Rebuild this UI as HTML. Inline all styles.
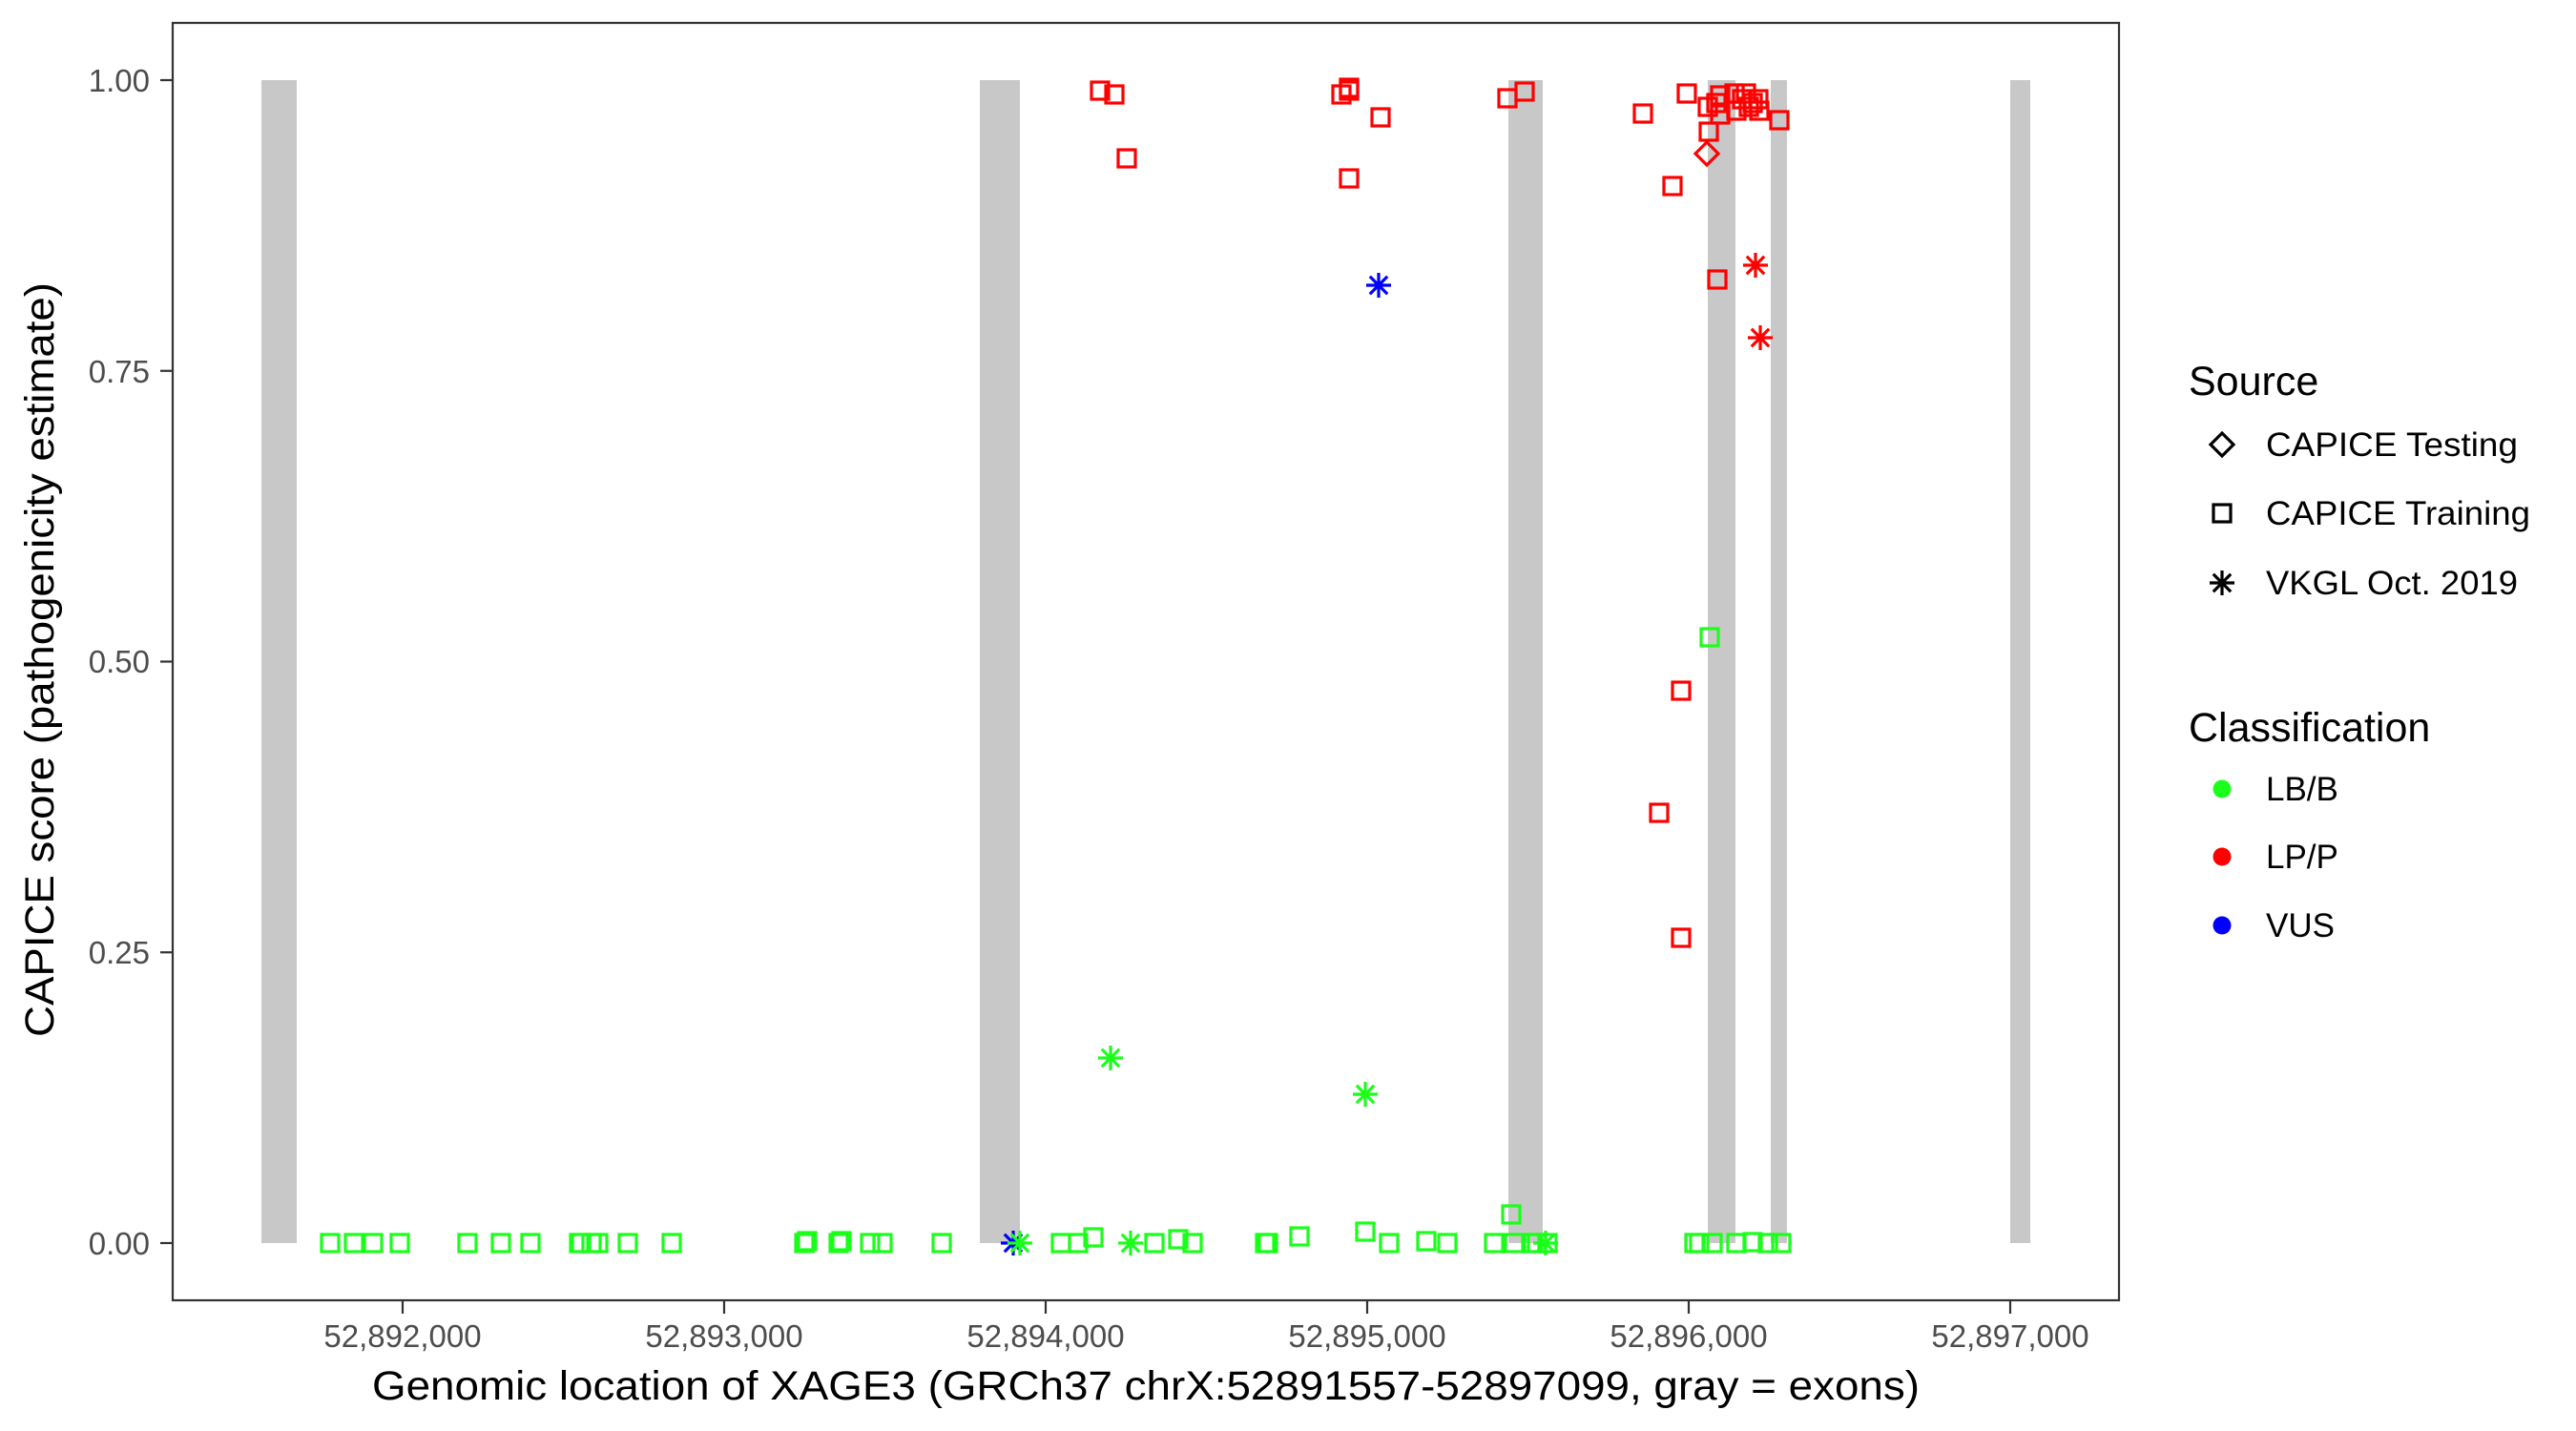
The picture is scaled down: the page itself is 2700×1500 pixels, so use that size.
<!DOCTYPE html>
<html><head><meta charset="utf-8"><style>
html,body{margin:0;padding:0;background:#fff;}
svg{display:block;font-family:"Liberation Sans",Arial,sans-serif;}
</style></head><body>
<svg width="2700" height="1500" viewBox="0 0 2700 1500" xmlns="http://www.w3.org/2000/svg">
<defs>
<rect id="sq" x="-9" y="-9" width="18" height="18" fill="none" stroke-width="3.2"/>
<path id="st" d="M-13,0H13M0,-13V13M-9.2,-9.2L9.2,9.2M-9.2,9.2L9.2,-9.2" fill="none" stroke-width="3.2"/>
<path id="dm" d="M0,-12L12,0L0,12L-12,0Z" fill="none" stroke-width="3.2"/>
</defs>
<rect width="2700" height="1500" fill="#fff"/>
<g fill="#c8c8c8">
<rect x="274" y="84" width="37" height="1219"/>
<rect x="1027" y="84" width="42" height="1219"/>
<rect x="1581" y="84" width="36" height="1219"/>
<rect x="1790" y="84" width="29" height="1219"/>
<rect x="1856" y="84" width="17" height="1219"/>
<rect x="2107" y="84" width="21" height="1219"/>
</g>
<g stroke="#1aff1a">
<use href="#sq" x="346" y="1303"/><use href="#sq" x="371" y="1303"/><use href="#sq" x="391" y="1303"/><use href="#sq" x="419" y="1303"/>
<use href="#sq" x="490" y="1303"/><use href="#sq" x="525" y="1303"/><use href="#sq" x="556" y="1303"/><use href="#sq" x="607" y="1303"/>
<use href="#sq" x="609" y="1303"/><use href="#sq" x="620" y="1303"/><use href="#sq" x="627" y="1303"/><use href="#sq" x="658" y="1303"/>
<use href="#sq" x="704" y="1303"/><use href="#sq" x="843" y="1303"/><use href="#sq" x="846" y="1301"/><use href="#sq" x="879" y="1303"/>
<use href="#sq" x="882" y="1301"/><use href="#sq" x="912" y="1303"/><use href="#sq" x="925" y="1303"/><use href="#sq" x="987" y="1303"/>
<use href="#sq" x="1112" y="1303"/><use href="#sq" x="1130" y="1303"/><use href="#sq" x="1146" y="1297"/><use href="#sq" x="1210" y="1303"/>
<use href="#sq" x="1235" y="1299"/><use href="#sq" x="1250" y="1303"/><use href="#sq" x="1326" y="1303"/><use href="#sq" x="1329" y="1303"/>
<use href="#sq" x="1362" y="1296"/><use href="#sq" x="1431" y="1291"/><use href="#sq" x="1456" y="1303"/><use href="#sq" x="1495" y="1301"/>
<use href="#sq" x="1517" y="1303"/><use href="#sq" x="1566" y="1303"/><use href="#sq" x="1584" y="1273"/><use href="#sq" x="1587" y="1303"/>
<use href="#sq" x="1607" y="1303"/><use href="#sq" x="1611" y="1303"/><use href="#sq" x="1622" y="1303"/>
<use href="#sq" x="1776" y="1303"/><use href="#sq" x="1781" y="1303"/><use href="#sq" x="1795" y="1303"/><use href="#sq" x="1820" y="1303"/>
<use href="#sq" x="1837" y="1302"/><use href="#sq" x="1853" y="1303"/><use href="#sq" x="1867" y="1303"/>
<use href="#sq" x="1792" y="668"/>
</g>
<g stroke="#0000ff">
<use href="#st" x="1062" y="1303"/><use href="#st" x="1445" y="299"/>
</g>
<g stroke="#1aff1a">
<use href="#st" x="1164" y="1109"/><use href="#st" x="1431" y="1147"/><use href="#st" x="1069" y="1303"/><use href="#st" x="1185" y="1303"/><use href="#st" x="1620" y="1303"/>
</g>
<g stroke="#ff0000">
<use href="#sq" x="1153" y="95"/><use href="#sq" x="1168" y="99"/><use href="#sq" x="1181" y="166"/><use href="#sq" x="1406" y="99"/>
<use href="#sq" x="1414" y="92"/><use href="#sq" x="1414" y="95"/><use href="#sq" x="1447" y="123"/><use href="#sq" x="1414" y="187"/>
<use href="#sq" x="1580" y="103"/><use href="#sq" x="1598" y="96"/><use href="#sq" x="1722" y="119"/><use href="#sq" x="1768" y="98"/>
<use href="#sq" x="1753" y="195"/><use href="#sq" x="1791" y="138"/><use href="#sq" x="1790" y="112"/><use href="#sq" x="1800" y="293"/>
<use href="#sq" x="1803" y="100"/><use href="#sq" x="1803" y="120"/><use href="#sq" x="1818" y="98"/><use href="#sq" x="1820" y="116"/>
<use href="#sq" x="1830" y="98"/><use href="#sq" x="1833" y="112"/><use href="#sq" x="1843" y="104"/><use href="#sq" x="1844" y="116"/>
<use href="#sq" x="1865" y="126"/><use href="#sq" x="1837" y="108"/><use href="#sq" x="1826" y="104"/><use href="#sq" x="1799" y="108"/>
<use href="#sq" x="1762" y="724"/><use href="#sq" x="1739" y="852"/><use href="#sq" x="1762" y="983"/>
<use href="#st" x="1840" y="278"/><use href="#st" x="1845" y="354"/>
<use href="#dm" x="1789" y="161"/>
</g>
<rect x="181" y="24" width="2040" height="1339" fill="none" stroke="#333" stroke-width="2.2"/>
<g stroke="#333" stroke-width="2.2">
<line x1="168" y1="84" x2="181" y2="84"/><line x1="168" y1="388.75" x2="181" y2="388.75"/>
<line x1="168" y1="693.5" x2="181" y2="693.5"/><line x1="168" y1="998.25" x2="181" y2="998.25"/>
<line x1="168" y1="1303" x2="181" y2="1303"/>
<line x1="422" y1="1363" x2="422" y2="1377"/><line x1="759" y1="1363" x2="759" y2="1377"/>
<line x1="1096" y1="1363" x2="1096" y2="1377"/><line x1="1433" y1="1363" x2="1433" y2="1377"/>
<line x1="1770" y1="1363" x2="1770" y2="1377"/><line x1="2107" y1="1363" x2="2107" y2="1377"/>
</g>
<g fill="#4d4d4d" font-size="33" text-anchor="end">
<text x="157" y="96">1.00</text><text x="157" y="401">0.75</text><text x="157" y="705">0.50</text>
<text x="157" y="1010">0.25</text><text x="157" y="1315">0.00</text>
</g>
<g fill="#4d4d4d" font-size="33" text-anchor="middle">
<text x="422" y="1412">52,892,000</text><text x="759" y="1412">52,893,000</text><text x="1096" y="1412">52,894,000</text>
<text x="1433" y="1412">52,895,000</text><text x="1770" y="1412">52,896,000</text><text x="2107" y="1412">52,897,000</text>
</g>
<text x="390" y="1467" font-size="43" fill="#000" textLength="1622" lengthAdjust="spacingAndGlyphs">Genomic location of XAGE3 (GRCh37 chrX:52891557-52897099, gray = exons)</text>
<text transform="translate(56,1087) rotate(-90)" font-size="43" fill="#000" textLength="791" lengthAdjust="spacingAndGlyphs">CAPICE score (pathogenicity estimate)</text>
<text x="2294" y="414" font-size="43" fill="#000">Source</text>
<use href="#dm" x="2343" y="466" stroke="#000" transform="translate(-14,0)"/>
<use href="#sq" x="2343" y="538" stroke="#000" transform="translate(-14,0)"/>
<use href="#st" x="2343" y="611" stroke="#000" transform="translate(-14,0)"/>
<g font-size="35" fill="#000">
<text x="2375" y="478" textLength="264" lengthAdjust="spacingAndGlyphs">CAPICE Testing</text>
<text x="2375" y="550" textLength="277" lengthAdjust="spacingAndGlyphs">CAPICE Training</text>
<text x="2375" y="623" textLength="264" lengthAdjust="spacingAndGlyphs">VKGL Oct. 2019</text>
<text x="2375" y="839">LB/B</text>
<text x="2375" y="910">LP/P</text>
<text x="2375" y="982">VUS</text>
</g>
<text x="2294" y="777" font-size="43" fill="#000">Classification</text>
<circle cx="2329" cy="827" r="9.5" fill="#1aff1a"/>
<circle cx="2329" cy="898" r="9.5" fill="#ff0000"/>
<circle cx="2329" cy="970" r="9.5" fill="#0000ff"/>
</svg>
</body></html>
